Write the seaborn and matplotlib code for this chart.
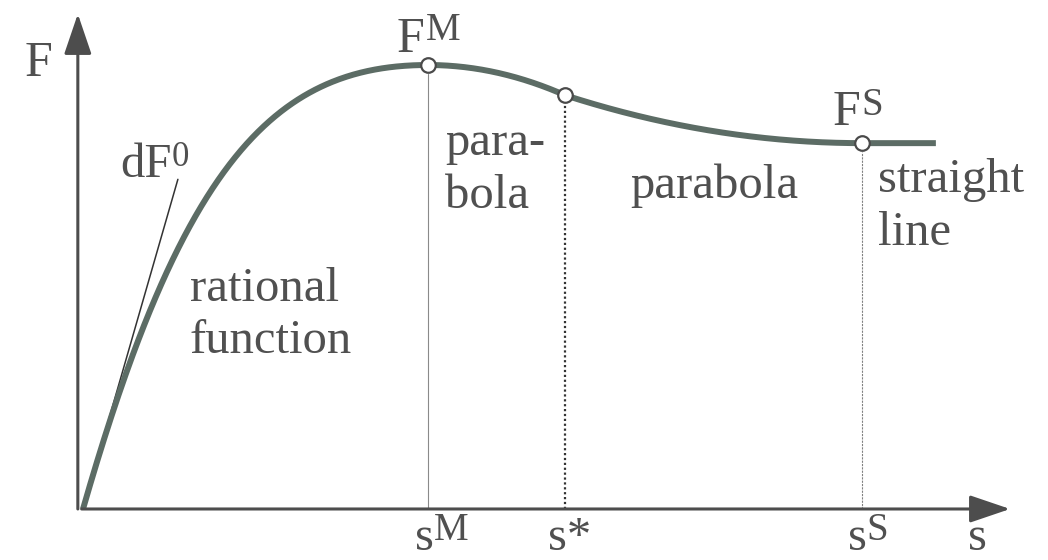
import numpy as np
import pandas as pd
import matplotlib
matplotlib.use("Agg")
import matplotlib.pyplot as plt
import seaborn as sns

# Characteristic points of the force-displacement curve (s normalised to sM, F to FM)
point_names = ["M", "*", "S"]
s_points = [1.0, 1.397, 2.258]      # sM, s*, sS
F_points = [1.0, 0.932, 0.824]      # FM, F*, FS
dF0 = 2.70                           # initial stiffness (slope at origin)
s_end = 2.472                        # end of the straight-line branch
s_tangent = 0.275                    # length of the drawn tangent dF0

sM, s_star, sS = s_points
FM, F_star, FS = F_points

# Piecewise model: rational function, parabola, parabola, straight line
def force(s):
    s = np.asarray(s, dtype=float)
    x = s / sM
    A = dF0 * sM / FM
    rational = FM * A * x / (1.0 + (A - 2.0) * x + x ** 2)
    para1 = FM - (FM - F_star) * ((s - sM) / (s_star - sM)) ** 2
    para2 = FS + (F_star - FS) * ((s - sS) / (s_star - sS)) ** 2
    line = np.full_like(s, FS)
    return np.where(s <= sM, rational,
           np.where(s <= s_star, para1,
           np.where(s <= sS, para2, line)))

s_grid = np.linspace(0.0, s_end, 600)
curve = pd.DataFrame({"s": s_grid, "F": force(s_grid)})
marks = pd.DataFrame({"s": s_points, "F": F_points})

sns.set_theme(style="white")
plt.rcParams["font.family"] = ["Liberation Serif", "DejaVu Serif"]

fig = plt.figure(figsize=(10.48, 5.60), dpi=100)
ax = fig.add_axes([0, 0, 1, 1])
ax.set_xlim(-0.2406, 2.797)
ax.set_ylim(-0.1149, 1.1464)
ax.axis("off")

axis_col = "#4d4d4d"
curve_col = "#5c6c65"
text_col = "#505050"

# Coordinate axes with arrow heads
arrow = dict(arrowstyle="-|>,head_length=1.0,head_width=0.34", mutation_scale=25,
             lw=2.2, color=axis_col, shrinkA=0, shrinkB=0)
ax.annotate("", xy=(2.687, 0.0), xytext=(-0.004, 0.0), arrowprops=arrow)
ax.annotate("", xy=(-0.015, 1.115), xytext=(-0.015, 0.0), arrowprops=arrow)

# Guide lines down to the s axis
ax.plot([sM, sM], [0, FM - 0.02], color="#8a8a8a", lw=0.8)
ax.plot([s_star, s_star], [0, F_star - 0.02], color="#333333", lw=1.6, ls=(0, (1, 1.2)))
ax.plot([sS, sS], [0, FS - 0.02], color="#808080", lw=0.8, ls=(0, (2, 1)))

# Tangent at the origin
ax.plot([0, s_tangent], [0, dF0 * s_tangent], color="#333333", lw=1.1)

# Curve
sns.lineplot(data=curve, x="s", y="F", ax=ax, color=curve_col, lw=4.3,
             sort=False, estimator=None, solid_capstyle="butt")

# Characteristic points
sns.scatterplot(data=marks, x="s", y="F", ax=ax, s=110, color="white",
                edgecolor="#4a4a4a", linewidth=1.6, zorder=5)

body = 35
sym = 36
sup = 28


def label(x, y, txt, size=body, ls=1.25):
    ax.text(x, y, txt, color=text_col, fontsize=size, ha="left",
            va="baseline", linespacing=ls)


# Axis names and symbols with superscripts
label(-0.168, 0.975, "F", sym)
label(0.910, 1.029, "F", sym)
label(0.994, 1.056, "M", sup)
label(2.174, 0.865, "F", sym)
label(2.257, 0.887, "S", sup)
label(0.107, 0.748, "dF", body)
label(0.257, 0.772, "0", 25)

# Segment names
label(1.049, 0.678, "para-\nbola")
label(1.586, 0.700, "parabola")
label(2.304, 0.595, "straight\nline")
label(0.310, 0.351, "rational\nfunction")

# Displacement marks on the s axis
label(0.962, -0.092, "s")
label(1.016, -0.070, "M", sup)
label(1.348, -0.092, "s*")
label(2.217, -0.092, "s")
label(2.272, -0.070, "S", sup)
label(2.565, -0.092, "s")

fig.savefig("out.png", dpi=100, facecolor="white")
